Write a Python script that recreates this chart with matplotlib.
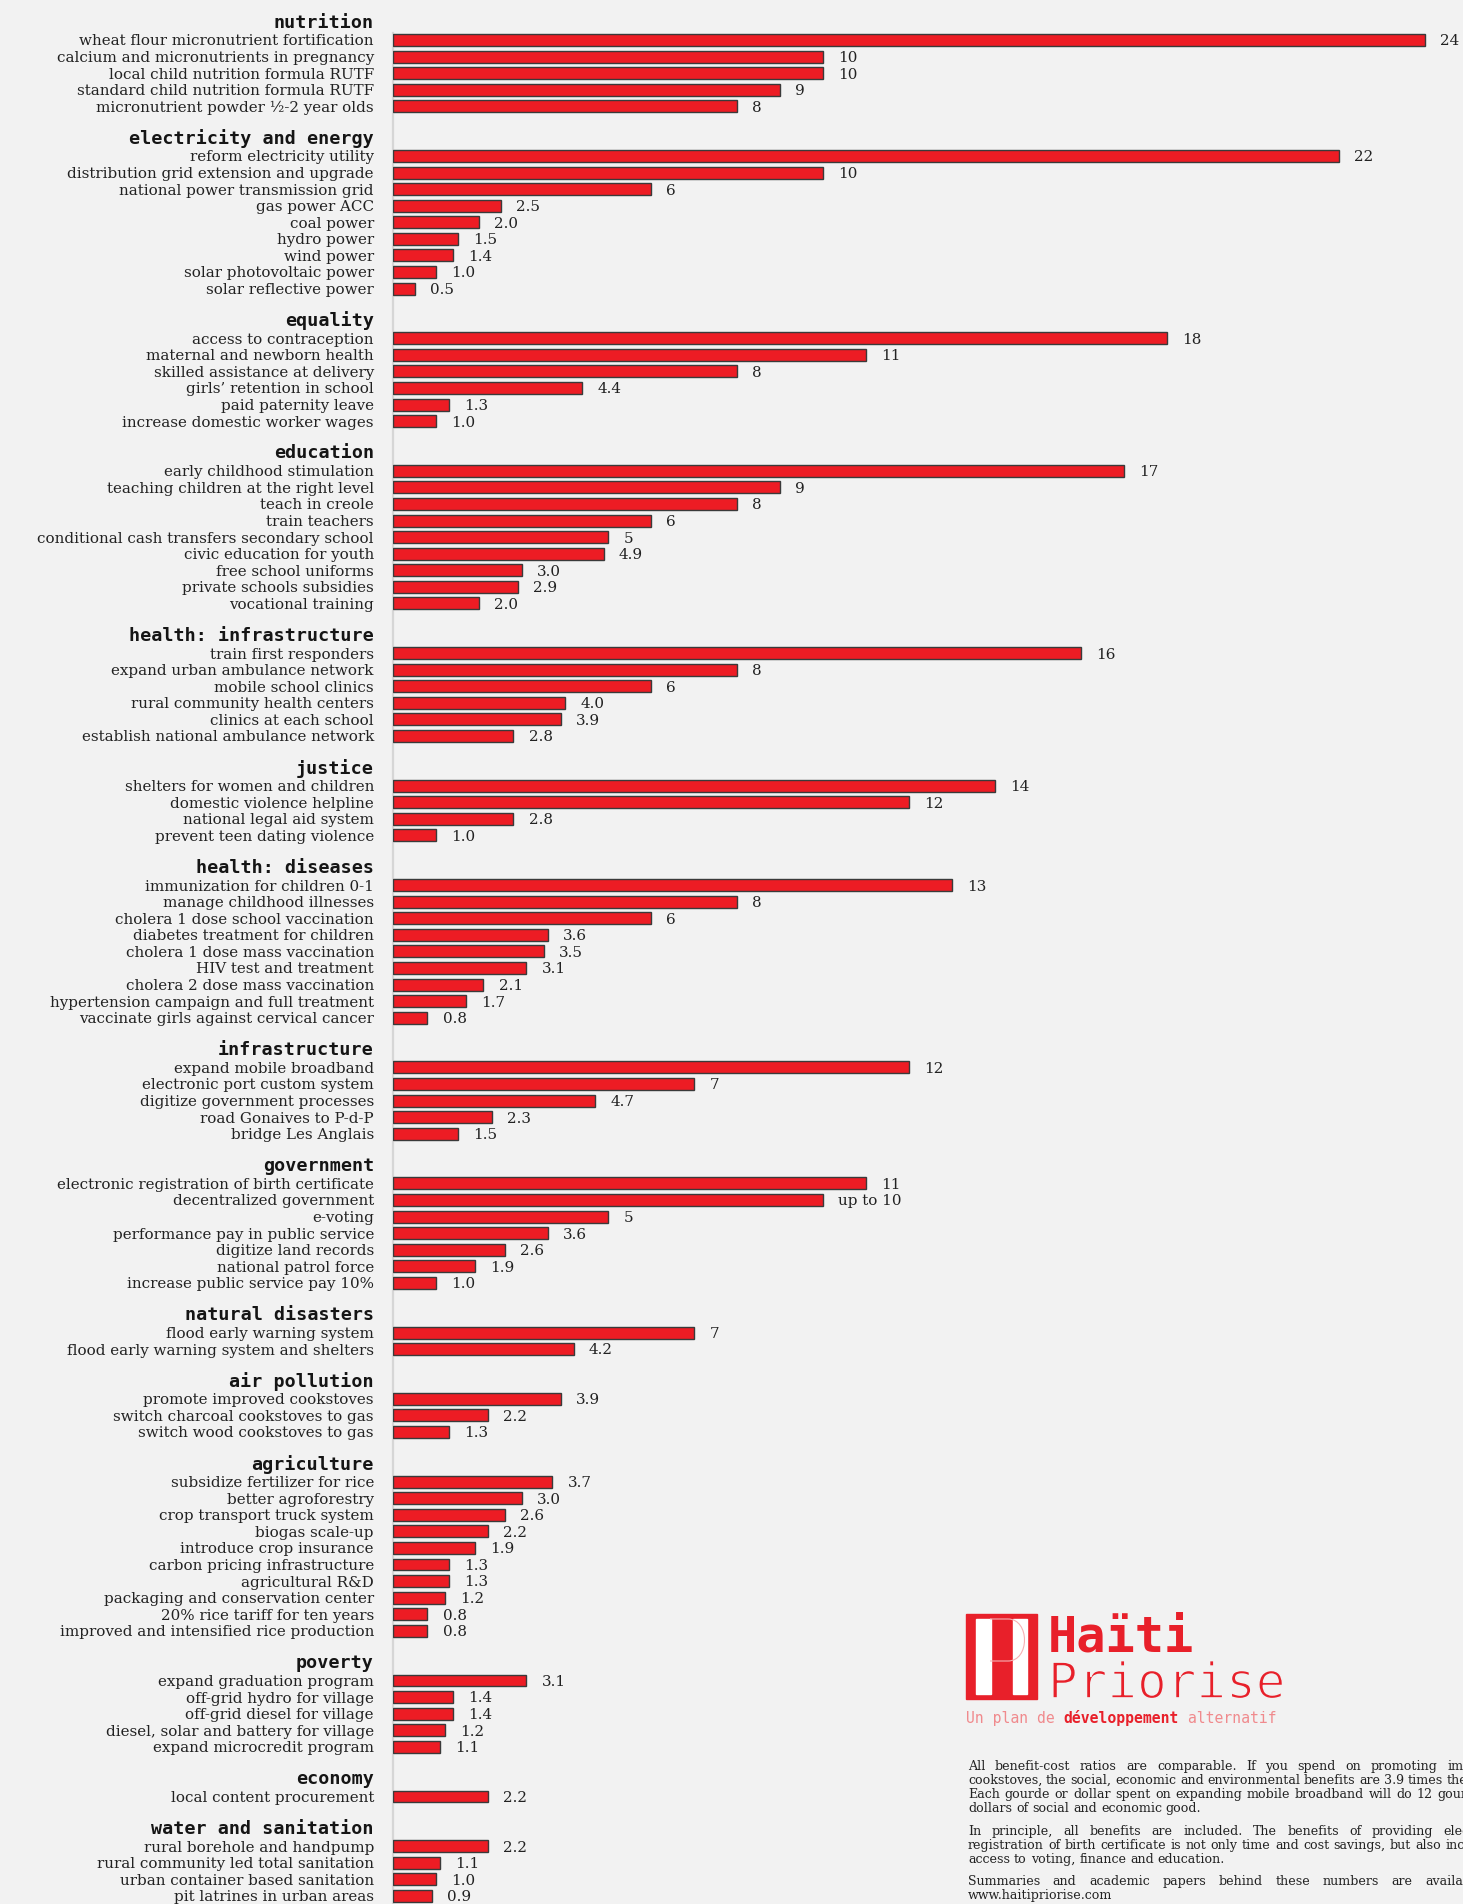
import matplotlib
matplotlib.use("Agg")
import matplotlib.pyplot as plt
from matplotlib.patches import Rectangle, PathPatch
from matplotlib.path import Path
import matplotlib.patheffects as pe

# ---------------- data ----------------
categories = [
    "nutrition", "electricity and energy", "equality", "education",
    "health: infrastructure", "justice", "health: diseases", "infrastructure",
    "government", "natural disasters", "air pollution", "agriculture",
    "poverty", "economy", "water and sanitation",
]

nutrition_items = ["wheat flour micronutrient fortification",
                   "calcium and micronutrients in pregnancy",
                   "local child nutrition formula RUTF",
                   "standard child nutrition formula RUTF",
                   "micronutrient powder \u00bd-2 year olds"]
nutrition_values = [24, 10, 10, 9, 8]

energy_items = ["reform electricity utility", "distribution grid extension and upgrade",
                "national power transmission grid", "gas power ACC", "coal power",
                "hydro power", "wind power", "solar photovoltaic power",
                "solar reflective power"]
energy_values = [22, 10, 6, 2.5, 2.0, 1.5, 1.4, 1.0, 0.5]

equality_items = ["access to contraception", "maternal and newborn health",
                  "skilled assistance at delivery", "girls\u2019 retention in school",
                  "paid paternity leave", "increase domestic worker wages"]
equality_values = [18, 11, 8, 4.4, 1.3, 1.0]

education_items = ["early childhood stimulation", "teaching children at the right level",
                   "teach in creole", "train teachers",
                   "conditional cash transfers secondary school", "civic education for youth",
                   "free school uniforms", "private schools subsidies", "vocational training"]
education_values = [17, 9, 8, 6, 5, 4.9, 3.0, 2.9, 2.0]

health_infra_items = ["train first responders", "expand urban ambulance network",
                      "mobile school clinics", "rural community health centers",
                      "clinics at each school", "establish national ambulance network"]
health_infra_values = [16, 8, 6, 4.0, 3.9, 2.8]

justice_items = ["shelters for women and children", "domestic violence helpline",
                 "national legal aid system", "prevent teen dating violence"]
justice_values = [14, 12, 2.8, 1.0]

diseases_items = ["immunization for children 0-1", "manage childhood illnesses",
                  "cholera 1 dose school vaccination", "diabetes treatment for children",
                  "cholera 1 dose mass vaccination", "HIV test and treatment",
                  "cholera 2 dose mass vaccination", "hypertension campaign and full treatment",
                  "vaccinate girls against cervical cancer"]
diseases_values = [13, 8, 6, 3.6, 3.5, 3.1, 2.1, 1.7, 0.8]

infrastructure_items = ["expand mobile broadband", "electronic port custom system",
                        "digitize government processes", "road Gonaives to P-d-P",
                        "bridge Les Anglais"]
infrastructure_values = [12, 7, 4.7, 2.3, 1.5]

government_items = ["electronic registration of birth certificate", "decentralized government",
                    "e-voting", "performance pay in public service", "digitize land records",
                    "national patrol force", "increase public service pay 10%"]
government_values = [11, 10, 5, 3.6, 2.6, 1.9, 1.0]

disasters_items = ["flood early warning system", "flood early warning system and shelters"]
disasters_values = [7, 4.2]

air_items = ["promote improved cookstoves", "switch charcoal cookstoves to gas",
             "switch wood cookstoves to gas"]
air_values = [3.9, 2.2, 1.3]

agriculture_items = ["subsidize fertilizer for rice", "better agroforestry",
                     "crop transport truck system", "biogas scale-up", "introduce crop insurance",
                     "carbon pricing infrastructure", "agricultural R&D",
                     "packaging and conservation center", "20% rice tariff for ten years",
                     "improved and intensified rice production"]
agriculture_values = [3.7, 3.0, 2.6, 2.2, 1.9, 1.3, 1.3, 1.2, 0.8, 0.8]

poverty_items = ["expand graduation program", "off-grid hydro for village",
                 "off-grid diesel for village", "diesel, solar and battery for village",
                 "expand microcredit program"]
poverty_values = [3.1, 1.4, 1.4, 1.2, 1.1]

economy_items = ["local content procurement"]
economy_values = [2.2]

water_items = ["rural borehole and handpump", "rural community led total sanitation",
               "urban container based sanitation", "pit latrines in urban areas"]
water_values = [2.2, 1.1, 1.0, 0.9]

label_overrides = {"decentralized government": "up to 10"}

group_items = [nutrition_items, energy_items, equality_items, education_items,
               health_infra_items, justice_items, diseases_items, infrastructure_items,
               government_items, disasters_items, air_items, agriculture_items,
               poverty_items, economy_items, water_items]
group_values = [nutrition_values, energy_values, equality_values, education_values,
                health_infra_values, justice_values, diseases_values, infrastructure_values,
                government_values, disasters_values, air_values, agriculture_values,
                poverty_values, economy_values, water_values]

# ---------------- layout ----------------
W, H = 1463, 1904
DPI = 100
BG = "#f2f2f2"
RED = "#ed1c24"
LOGO_RED = "#e8202a"
SERIF = "DejaVu Serif"
MONO = "DejaVu Sans Mono"
ITEM_FS = 10.9
HEAD_FS = 13.2

fig = plt.figure(figsize=(W / DPI, H / DPI), dpi=DPI, facecolor=BG)

px_per_unit = 43.0
ax_left = 393
ax = fig.add_axes([ax_left / W, 0, (W - ax_left) / W, 1])
ax.set_facecolor(BG)

row_h = 16.571
first_item_y = 40.0

rows = []  # (kind, text, value)
for gi, (cat, items, vals) in enumerate(zip(categories, group_items, group_values)):
    if gi > 0:
        rows.append(("blank", "", None))
    rows.append(("header", cat, None))
    for it, v in zip(items, vals):
        rows.append(("item", it, v))

for i, (kind, txt, v) in enumerate(rows):
    if kind == "item":
        ax.barh(i, v, height=0.72, color=RED, edgecolor="#3a3a3a", linewidth=1.0, zorder=3)
        lab = label_overrides.get(txt, f"{v:.0f}" if v >= 5 else f"{v:.1f}")
        ax.annotate(lab, (v, i), xytext=(11, -1), textcoords="offset points",
                    ha="left", va="center", fontsize=ITEM_FS, family=SERIF, color="#222222",
                    annotation_clip=False)

ax.set_xlim(0, (W - ax_left) / px_per_unit)
top_i = 1 - first_item_y / row_h
bot_i = 1 + (H - first_item_y) / row_h
ax.set_ylim(bot_i, top_i)

tick_pos = [i - 0.17 if r[0] == "header" else i for i, r in enumerate(rows)]
ax.set_yticks(tick_pos)
ax.set_yticklabels([r[1] for r in rows])
ax.tick_params(axis="y", length=0, pad=13.7)
ax.tick_params(axis="x", bottom=False, labelbottom=False)
for lab, r in zip(ax.get_yticklabels(), rows):
    if r[0] == "header":
        lab.set_fontfamily(MONO)
        lab.set_fontweight("bold")
        lab.set_fontsize(HEAD_FS)
        lab.set_color("#151515")
    else:
        lab.set_fontfamily(SERIF)
        lab.set_fontsize(ITEM_FS)
        lab.set_color("#222222")

for s in ["top", "right", "bottom"]:
    ax.spines[s].set_visible(False)
ax.spines["left"].set_color("#d6d6d6")
ax.spines["left"].set_linewidth(1.6)
ax.spines["left"].set_bounds(0.58, bot_i)


# ---------------- logo ----------------
def fx(x):
    return x / W


def fy(y):
    return 1 - y / H


def frect(x0, y0, x1, y1, **kw):
    fig.patches.append(Rectangle((fx(x0), fy(y1)), (x1 - x0) / W, (y1 - y0) / H,
                                 transform=fig.transFigure, figure=fig, **kw))


frect(966, 1614, 1037, 1699, color=LOGO_RED, zorder=5)
frect(976, 1619, 991, 1694, color="white", zorder=6)
frect(1013, 1619, 1027, 1694, color="white", zorder=6)
# thin "P" bowl outline
bowl = Path([(fx(990), fy(1619)), (fx(1008), fy(1619)),
             (fx(1030), fy(1619)), (fx(1030), fy(1661)), (fx(1008), fy(1661)),
             (fx(990), fy(1661))],
            [Path.MOVETO, Path.LINETO, Path.CURVE4, Path.CURVE4, Path.CURVE4, Path.LINETO])
fig.patches.append(PathPatch(bowl, transform=fig.transFigure, figure=fig, fill=False,
                             edgecolor="#f6b0b3", linewidth=0.8, zorder=7))

fig.text(fx(1048), fy(1652), "Ha\u00efti", family=MONO, fontweight="bold", fontsize=35,
         color=LOGO_RED, ha="left", va="baseline")
fig.text(fx(1048), fy(1698), "Priorise", family=MONO, fontsize=35.5,
         color=LOGO_RED, ha="left", va="baseline",
         path_effects=[pe.Normal(), pe.Stroke(linewidth=1.2, foreground=BG)])

SUB_FS = 10.6
sub = fig.text(fx(966), fy(1723), "Un plan de ", family=MONO, fontsize=SUB_FS,
               color="#f08a8d", ha="left", va="baseline")
fig.canvas.draw()
renderer = fig.canvas.get_renderer()
x = 966 + sub.get_window_extent(renderer).width
t2 = fig.text(fx(x), fy(1723), "d\u00e9veloppement", family=MONO, fontweight="bold",
              fontsize=SUB_FS, color=LOGO_RED, ha="left", va="baseline")
x += t2.get_window_extent(renderer).width
fig.text(fx(x), fy(1723), " alternatif", family=MONO, fontsize=SUB_FS,
         color="#f08a8d", ha="left", va="baseline")

# ---------------- notes (justified) ----------------
note_lines = [
    ("All benefit-cost ratios are comparable. If you spend on promoting improved", True, 1770),
    ("cookstoves, the social, economic and environmental benefits are 3.9 times the costs.", True, 1784),
    ("Each gourde or dollar spent on expanding mobile broadband will do 12 gourdes or", True, 1798),
    ("dollars of social and economic good.", False, 1812),
    ("In principle, all benefits are included. The benefits of providing electronic", True, 1835),
    ("registration of birth certificate is not only time and cost savings, but also increased", True, 1849),
    ("access to voting, finance and education.", False, 1863),
    ("Summaries and academic papers behind these numbers are available at", True, 1885),
    ("www.haitipriorise.com", False, 1899),
]
nx0, nx1 = 968, 1508
note_fs = 9.1
st = fig.text(0, 0, "a a", family=SERIF, fontsize=note_fs)
sa = fig.text(0, 0, "aa", family=SERIF, fontsize=note_fs)
space_w = st.get_window_extent(renderer).width - sa.get_window_extent(renderer).width
st.remove()
sa.remove()
for line, just, yb in note_lines:
    words = line.split()
    texts = [fig.text(0, 0, w, family=SERIF, fontsize=note_fs, color="#222222",
                      ha="left", va="baseline") for w in words]
    widths = [t.get_window_extent(renderer).width for t in texts]
    if just and len(words) > 1:
        gap = max(space_w * 0.6, (nx1 - nx0 - sum(widths)) / (len(words) - 1))
    else:
        gap = space_w
    xx = nx0
    for t, w in zip(texts, widths):
        t.set_position((fx(xx), fy(yb)))
        xx += w + gap

fig.savefig("out.png", dpi=DPI, facecolor=BG)
